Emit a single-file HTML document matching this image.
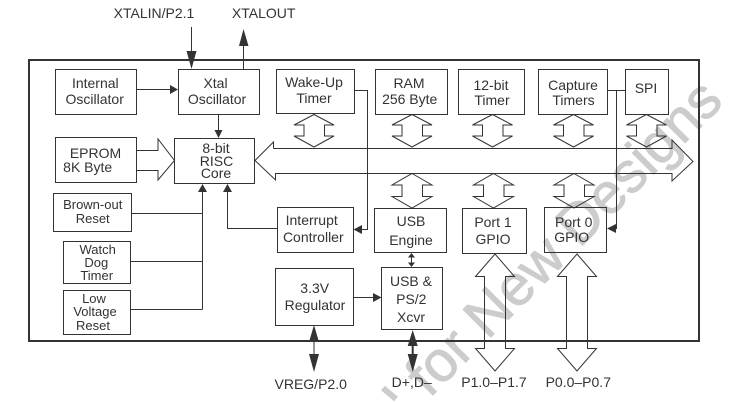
<!DOCTYPE html>
<html>
<head>
<meta charset="utf-8">
<style>
html,body{margin:0;padding:0;background:#fff;width:751px;height:402px;overflow:hidden}
svg{display:block;overflow:hidden}
text{font-family:"Liberation Sans",Arial,sans-serif;font-size:14px;fill:#333;text-anchor:middle}
.s{font-size:13px}
.wm{font-size:57px;fill:#cccccc;stroke:#cccccc;stroke-width:1px;text-anchor:end}
.b{fill:none;stroke:#333;stroke-width:1}
.l{fill:none;stroke:#333;stroke-width:1}
.h{fill:#333;stroke:none}
.d{fill:#fff;stroke:#333;stroke-width:1}
</style>
</head>
<body>
<svg width="751" height="402" viewBox="0 0 751 402" xmlns="http://www.w3.org/2000/svg">
<text class="wm" transform="translate(725,103) rotate(-45)">for New Designs</text>
<path d="M383 388L396 399" fill="none" stroke="#cccccc" stroke-width="6"/>

<path d="M29 60H699V341H29Z" fill="none" stroke="#333" stroke-width="2"/>

<!-- boxes -->
<path class="b" d="M55.5 69.5H136.5V114.5H55.5Z"/>
<path class="b" d="M178.5 69.5H259.5V114.5H178.5Z"/>
<path class="b" d="M276.500 69.5H354.5V113.5H276.500Z"/>
<path class="b" d="M375.5 69.5H447.5V114.5H375.5Z"/>
<path class="b" d="M458.5 69.5H524.5V114.5H458.5Z"/>
<path class="b" d="M538.5 69.5H607.5V114.5H538.5Z"/>
<path class="b" d="M625.5 69.5H668.5V114.5H625.5Z"/>
<path class="b" d="M55.5 137.5H136.5V182.5H55.5Z"/>
<path class="b" d="M174.5 138.5H254.5V183.5H174.5Z"/>
<path class="b" d="M53.5 193.5H131.5V231.5H53.5Z"/>
<path class="b" d="M63.5 241.5H130.5V283.5H63.5Z"/>
<path class="b" d="M63.5 290.5H130.5V334.5H63.5Z"/>
<path class="b" d="M277.5 207.5H353.5V252.5H277.5Z"/>
<path class="b" d="M275.5 268.5H353.5V325.5H275.5Z"/>
<path class="b" d="M374.5 208.5H446.5V252.5H374.5Z"/>
<path class="b" d="M462.5 208.5H526.5V253.5H462.5Z"/>
<path class="b" d="M544.5 207.5H606.5V252.5H544.5Z"/>
<path class="b" d="M381.5 267.5H442.5V329.5H381.5Z"/>

<!-- connectors -->
<path class="l" d="M136 89.5H172"/><path class="h" d="M178 89.5L170 85V94Z"/>
<path class="l" d="M191.5 27V55"/><path class="h" d="M186.5 51H196.5L191.5 69Z"/>
<path class="l" d="M243.5 70V44"/><path class="h" d="M239 46H248.5L243.5 29Z"/>
<path class="l" d="M218.5 114V132"/><path class="h" d="M214.5 130H222.5L218.5 138Z"/>

<path class="l" d="M202.500 190V309.500M131.5 213.5H202.500M130.5 261.5H202.500M130.5 309.5H202.500"/>
<path class="h" d="M202.500 184L198 192H207Z"/>
<path class="l" d="M227.5 190V228.5H277.5"/>
<path class="h" d="M227.5 184L223 192H232Z"/>

<path class="l" d="M354.5 90.5H367.5V229.5H360"/>
<path class="h" d="M353.5 229.5L362 225V234Z"/>
<path class="l" d="M607.5 90.5H625.5M616.5 90.5V228.5H612"/>
<path class="h" d="M607 228.5L616 224V233Z"/>

<path class="l" d="M353.5 297.5H376"/><path class="h" d="M381.5 297.5L373 293V302Z"/>
<path class="l" d="M411.5 255V265"/><path class="h" d="M411.5 253L408 257.5H415ZM411.5 267L408 262.5H415Z"/>

<!-- hollow arrows -->
<path class="d" d="M137 150.5H158V139L174.5 160.5L158 180V170.5H137"/>
<path class="d" style="fill:none" d="M273.5 148.5V142L255 160.5L275.5 180V173.5H672V181L693 161.5L672 140V148.5H273.5"/>

<!-- small double arrows -->
<g class="d" style="fill:none">
<path d="M314 114.5L334 125H324.5V136H334L314 147L294 136H304V125H294Z"/>
<path d="M412 114.5L432 125H422.5V136H432L412 147L392 136H402V125H392Z"/>
<path d="M492.5 114.5L512.5 125H503V136H512.5L492.5 147L472.5 136H482.500V125H472.5Z"/>
<path d="M573.500 114.5L593.5 125H584V136H593.5L573.5 147L553.5 136H563.500V125H553.5Z"/>
<path d="M646.500 114.5L666.5 125H657V136H666.5L646.5 147L626.5 136H636.500V125H626.5Z"/>
<path d="M412 173.5L432 185H422.5V196.500H432L412 208L392 196.500H402V185H392Z"/>
<path d="M493.500 173.5L513.5 185H504V196.500H513.5L493.5 208L473.5 196.500H483.500V185H473.5Z"/>
<path d="M574 173.5L594 185H584.5V196.500H594L574 208L554 196.500H564V185H554Z"/>
<path d="M495 254L514.500 276.5H505.5V348.500H514.500L495 371L475.500 348.500H484.500V276.5H475.500Z"/>
<path d="M577 254L596.500 276.5H587.500V348.500H596.500L577 371L557.500 348.500H566.500V276.5H557.500Z"/>
</g>

<!-- bold bidirectional arrows -->
<path class="l" d="M314 340V356"/>
<path class="h" d="M314 325L309 342H319ZM309 354H319L314 372Z"/>
<path d="M412.700 344V356" fill="none" stroke="#333" stroke-width="2"/>
<path class="h" d="M412.700 330L407.700 346H417.700ZM407.700 354H417.700L412.700 372Z"/>

<!-- labels -->
<text x="154" y="18">XTALIN/P2.1</text>
<text x="263.700" y="18">XTALOUT</text>
<text x="95.300" y="88">Internal</text><text x="94.700" y="104">Oscillator</text>
<text x="215.500" y="88">Xtal</text><text x="217" y="104">Oscillator</text>
<text x="314" y="87">Wake-Up</text><text x="314" y="103">Timer</text>
<text x="409" y="88">RAM</text><text x="409.700" y="104">256 Byte</text>
<text x="491" y="90">12-bit</text><text x="492" y="105">Timer</text>
<text x="573" y="90">Capture</text><text x="573.500" y="105">Timers</text>
<text x="646" y="93">SPI</text>
<text x="95.500" y="158">EPROM</text><text x="87.700" y="172">8K Byte</text>
<text x="216" y="153">8-bit</text><text x="216.500" y="166">RISC</text><text x="216" y="178">Core</text>
<text class="s" x="92.700" y="209">Brown-out</text><text class="s" x="92.700" y="223">Reset</text>
<text class="s" x="97.700" y="254">Watch</text><text class="s" x="96.300" y="267">Dog</text><text class="s" x="96.700" y="280">Timer</text>
<text class="s" x="94" y="303">Low</text><text class="s" x="95" y="316">Voltage</text><text class="s" x="93" y="330">Reset</text>
<text x="311.700" y="225">Interrupt</text><text x="313.300" y="242">Controller</text>
<text x="314.700" y="293">3.3V</text><text x="315" y="310">Regulator</text>
<text x="411" y="226">USB</text><text x="411" y="245">Engine</text>
<text x="411" y="286">USB &amp;</text><text x="411.300" y="304">PS/2</text><text x="411" y="322">Xcvr</text>
<text x="493" y="227">Port 1</text><text x="493" y="244">GPIO</text>
<text x="573.700" y="227">Port 0</text><text x="571.700" y="242">GPIO</text>
<text x="310.700" y="389">VREG/P2.0</text>
<text x="411.700" y="387">D+,D–</text>
<text x="494" y="387">P1.0–P1.7</text>
<text x="578.300" y="387">P0.0–P0.7</text>
</svg>
</body>
</html>
